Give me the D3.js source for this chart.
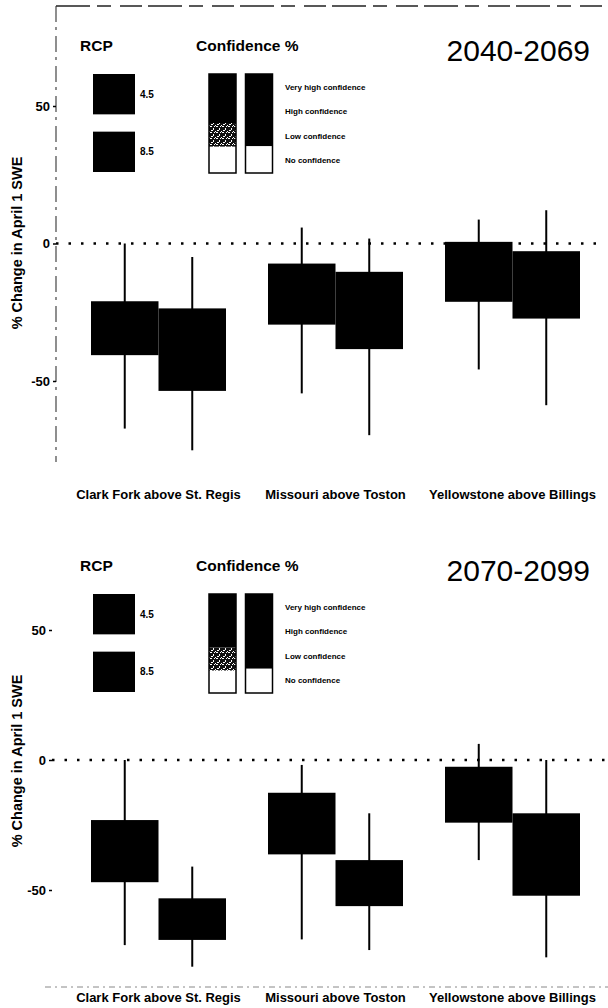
<!DOCTYPE html>
<html><head><meta charset="utf-8">
<script src="https://cdn.jsdelivr.net/npm/d3@7"></script>
<style>
body{margin:0;background:#fff}
svg{display:block}
text{font-family:"Liberation Sans",Arial,Helvetica,sans-serif;fill:#000}
</style>
</head><body>
<svg id="chart" width="608" height="1008"></svg>
<script>
// ---------- DATA ----------
const categories = ["Clark Fork above St. Regis", "Missouri above Toston", "Yellowstone above Billings"];
const rcpLabels = ["4.5", "8.5"];
const periods = ["2040-2069", "2070-2099"];
const yTicks = [50, 0, -50];

// 2040-2069, RCP 4.5
const p1_45_upper = [-21.0, -7.3, 0.6];
const p1_45_lower = [-40.6, -29.5, -21.2];
const p1_45_max   = [0.0, 5.8, 8.7];
const p1_45_min   = [-67.3, -54.5, -45.8];
// 2040-2069, RCP 8.5
const p1_85_upper = [-23.6, -10.3, -2.8];
const p1_85_lower = [-53.6, -38.4, -27.3];
const p1_85_max   = [-4.9, 1.8, 12.1];
const p1_85_min   = [-75.2, -69.7, -58.8];
// 2070-2099, RCP 4.5
const p2_45_upper = [-23.1, -12.6, -2.6];
const p2_45_lower = [-47.0, -36.3, -24.1];
const p2_45_max   = [0.0, -1.9, 6.2];
const p2_45_min   = [-71.2, -69.0, -38.5];
// 2070-2099, RCP 8.5
const p2_85_upper = [-53.2, -38.5, -20.5];
const p2_85_lower = [-69.2, -56.2, -52.2];
const p2_85_max   = [-41.0, -20.5, 0.0];
const p2_85_min   = [-79.5, -73.1, -75.9];

// Confidence legend
const confLevels = ["Very high confidence", "High confidence", "Low confidence", "No confidence"];
const confSegments = ["solid", "mixed", "empty"];
const p1_conf = [[49.5, 24, 26.5], [73, 0, 27]];
const p2_conf = [[54, 23.5, 22.5], [75.5, 0, 24.5]];

// ---------- BUILD ----------
const svg = d3.select("#chart");
const defs = svg.append("defs");
const pat = defs.append("pattern").attr("id", "speck")
  .attr("patternUnits", "userSpaceOnUse").attr("width", 6).attr("height", 6);
pat.append("rect").attr("width", 6).attr("height", 6).attr("fill", "#111");
[[0,0,2,1],[3,2,1,2],[1,4,2,1],[5,5,1,1],[4,0,1,1]].forEach(r =>
  pat.append("rect").attr("x", r[0]).attr("y", r[1]).attr("width", r[2]).attr("height", r[3]).attr("fill", "#fff"));

const panels = [
  { period: periods[0], dy: 0, domain: [-80, 86], range: [463.5, 7], axisX: 56, xLabelY: 499,
    s45: [p1_45_upper, p1_45_lower, p1_45_max, p1_45_min],
    s85: [p1_85_upper, p1_85_lower, p1_85_max, p1_85_min], conf: p1_conf, titleY: 243 },
  { period: periods[1], dy: 520, domain: [-85, 83], range: [981, 544.2], axisX: 52, xLabelY: 1002,
    s45: [p2_45_upper, p2_45_lower, p2_45_max, p2_45_min],
    s85: [p2_85_upper, p2_85_lower, p2_85_max, p2_85_min], conf: p2_conf, titleY: 761 }
];

const x = d3.scaleBand().domain(categories).range([70, 601]).padding(0);
const inner = d3.scaleBand().domain(rcpLabels).range([0, 135]).padding(0);
const innerOff = (x.bandwidth() - 135) / 2;

panels.forEach(P => {
  const g = svg.append("g");
  const y = d3.scaleLinear().domain(P.domain).range(P.range);

  // frame fragments (scan)
  if (P.dy === 0) {
    g.append("line").attr("x1", 56).attr("x2", 604).attr("y1", 6).attr("y2", 6)
      .attr("stroke", "#222").attr("stroke-width", 1.5).attr("stroke-dasharray", "34,7,14,9,22,6");
    g.append("line").attr("x1", 56).attr("x2", 56).attr("y1", 6).attr("y2", 462)
      .attr("stroke", "#333").attr("stroke-width", 1.1).attr("stroke-dasharray", "16,5,3,6");
  } else {
    g.append("line").attr("x1", 45).attr("x2", 608).attr("y1", 987).attr("y2", 987)
      .attr("stroke", "#888").attr("stroke-width", 1).attr("stroke-dasharray", "6,4,2,4");
  }

  // y axis
  const ax = g.append("g").attr("transform", `translate(${P.axisX},0)`)
    .call(d3.axisLeft(y).tickValues(yTicks).tickSize(3).tickPadding(3).tickFormat(d => String(d)));
  ax.select(".domain").remove();
  ax.selectAll("text").style("font-size", "13px").style("font-weight", "bold")
    .style("font-family", "'Liberation Sans',Arial,sans-serif");
  ax.selectAll("line").attr("stroke-width", 1.5);

  // y title
  g.append("text").attr("transform", `translate(22,${P.titleY}) rotate(-90)`)
    .attr("text-anchor", "middle").style("font-size", "14.5px").style("font-weight", "bold")
    .text("% Change in April 1 SWE");

  // zero line
  g.append("line").attr("x1", P.axisX).attr("x2", 606).attr("y1", y(0)).attr("y2", y(0))
    .attr("stroke", "#000").attr("stroke-width", 2.5).attr("stroke-dasharray", "2.5,10");

  // boxes
  const series = [["4.5", P.s45], ["8.5", P.s85]];
  series.forEach(([r, s]) => {
    categories.forEach((c, i) => {
      const x0 = x(c) + innerOff + inner(r);
      const cx = x0 + inner.bandwidth() / 2;
      g.append("line").attr("x1", cx).attr("x2", cx).attr("y1", y(s[2][i])).attr("y2", y(s[3][i]))
        .attr("stroke", "#000").attr("stroke-width", 2);
    });
  });
  series.forEach(([r, s]) => {
    categories.forEach((c, i) => {
      const x0 = x(c) + innerOff + inner(r);
      g.append("rect").attr("x", x0).attr("width", inner.bandwidth())
        .attr("y", y(s[0][i])).attr("height", y(s[1][i]) - y(s[0][i])).attr("fill", "#000");
    });
  });

  // x labels
  g.selectAll(".xl").data(categories).enter().append("text")
    .attr("x", d => x(d) + x.bandwidth() / 2).attr("y", P.xLabelY)
    .attr("text-anchor", "middle").style("font-size", "13px").style("font-weight", "bold")
    .text(d => d);

  // legend
  const L = g.append("g").attr("transform", `translate(0,${P.dy})`);
  L.append("text").attr("x", 80).attr("y", 51).style("font-size", "15.5px").style("font-weight", "bold").text("RCP");
  L.append("text").attr("x", 196).attr("y", 51).style("font-size", "15.5px").style("font-weight", "bold").text("Confidence %");
  const ry = d3.scaleBand().domain(rcpLabels).range([74, 172]).paddingInner(0.3);
  rcpLabels.forEach(r => {
    L.append("rect").attr("x", 93).attr("y", ry(r)).attr("width", 42).attr("height", ry.bandwidth()).attr("fill", "#000");
    L.append("text").attr("x", 140).attr("y", ry(r) + ry.bandwidth() / 2 + 3.5)
      .style("font-size", "10px").style("font-weight", "bold").text(r);
  });
  const hb = d3.scaleLinear().domain([0, 100]).range([0, 99]);
  const barX = [209, 245.5];
  P.conf.forEach((segs, bi) => {
    let acc = 0;
    segs.forEach((v, si) => {
      const y0 = 74 + hb(acc);
      const fill = confSegments[si] === "solid" ? "#000" : confSegments[si] === "mixed" ? "url(#speck)" : "#fff";
      if (v > 0) L.append("rect").attr("x", barX[bi]).attr("y", y0).attr("width", 27).attr("height", hb(v)).attr("fill", fill);
      acc += v;
    });
    L.append("rect").attr("x", barX[bi]).attr("y", 74).attr("width", 27).attr("height", hb(100))
      .attr("fill", "none").attr("stroke", "#000").attr("stroke-width", 1.5);
  });
  const cy = d3.scalePoint().domain(confLevels).range([87, 160]);
  confLevels.forEach(l => {
    L.append("text").attr("x", 285).attr("y", cy(l) + 3).style("font-size", "8px").style("font-weight", "bold").text(l);
  });

  // period title
  L.append("text").attr("x", 590).attr("y", 61).attr("text-anchor", "end")
    .style("font-size", "30px").text(P.period);
});
</script>
</body></html>
